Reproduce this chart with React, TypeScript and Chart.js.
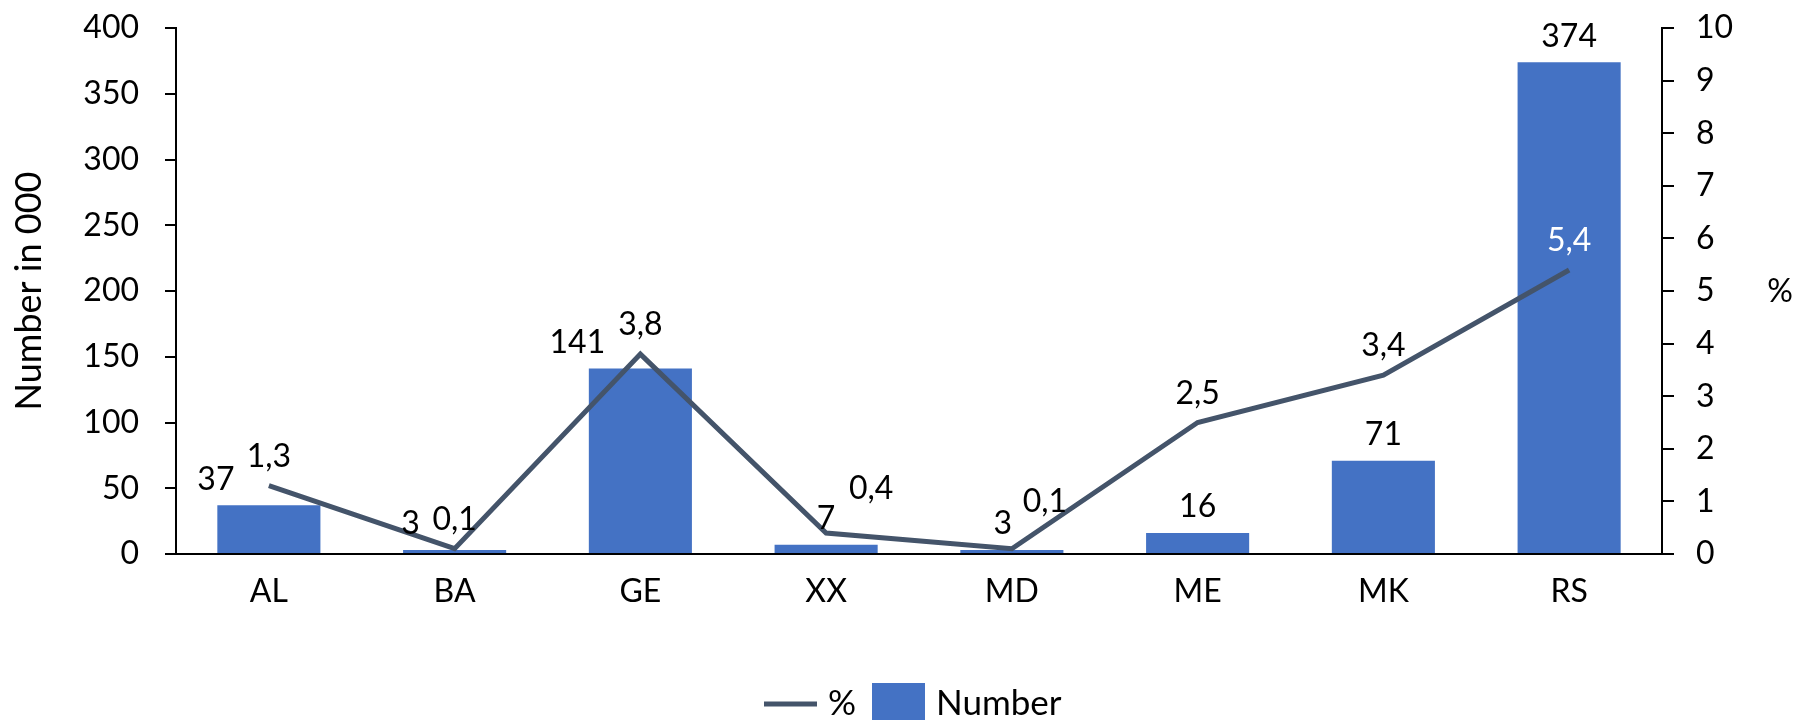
import React, { useEffect, useRef } from "react";
import { Chart, registerables } from "chart.js";

Chart.register(...registerables);

const categories = ["AL", "BA", "GE", "XX", "MD", "ME", "MK", "RS"];
const numberValues = [37, 3, 141, 7, 3, 16, 71, 374];
const percentValues = [1.3, 0.1, 3.8, 0.4, 0.1, 2.5, 3.4, 5.4];
const leftTicks = [0, 50, 100, 150, 200, 250, 300, 350, 400];
const rightTicks = [0, 1, 2, 3, 4, 5, 6, 7, 8, 9, 10];

// label placement tweaks (style, not data)
const barLabelShiftX = [-53, -44, -63, 0, -9, 0, 0, 0];
const lineLabelShiftX = [0, 0, 0, 45, 33, 0, 0, 0];
const lineLabelShiftY = [0, 0, 0, -15, -18, 0, 0, 0];
const lineLabelColors = ["#000", "#000", "#000", "#000", "#000", "#000", "#000", "#fff"];

const FONT = "Lato, 'Open Sans', sans-serif";
const BAR_COLOR = "#4472C4";
const LINE_COLOR = "#44546A";

const fmt = (v: number, dec: number) => (dec ? v.toFixed(dec).replace(".", ",") : String(v));

const labelPlugin = {
  id: "valueLabels",
  afterDatasetsDraw(chart: any) {
    const ctx = chart.ctx;
    ctx.save();
    ctx.font = `32px ${FONT}`;
    ctx.textAlign = "center";
    ctx.textBaseline = "middle";
    const barMeta = chart.getDatasetMeta(1);
    barMeta.data.forEach((el: any, i: number) => {
      ctx.fillStyle = "#000";
      ctx.fillText(fmt(numberValues[i], 0), el.x + barLabelShiftX[i], el.y - 26);
    });
    const lineMeta = chart.getDatasetMeta(0);
    lineMeta.data.forEach((el: any, i: number) => {
      ctx.fillStyle = lineLabelColors[i];
      ctx.fillText(fmt(percentValues[i], 1), el.x + lineLabelShiftX[i], el.y - 29 + lineLabelShiftY[i]);
    });
    ctx.restore();
  },
  afterDraw(chart: any) {
    const ctx = chart.ctx;
    ctx.save();
    // right axis title, upright
    ctx.font = `32px ${FONT}`;
    ctx.fillStyle = "#000";
    ctx.textAlign = "center";
    ctx.textBaseline = "middle";
    ctx.fillText("%", 1780, 292);
    // legend
    const ly = 704;
    ctx.strokeStyle = LINE_COLOR;
    ctx.lineWidth = 5;
    ctx.beginPath();
    ctx.moveTo(764, ly);
    ctx.lineTo(817, ly);
    ctx.stroke();
    ctx.font = `35px ${FONT}`;
    ctx.textAlign = "left";
    ctx.fillText(chart.data.datasets[0].label, 828, ly);
    ctx.fillStyle = BAR_COLOR;
    ctx.fillRect(872, 683, 53, 53);
    ctx.fillStyle = "#000";
    ctx.fillText(chart.data.datasets[1].label, 936, ly);
    ctx.restore();
  },
};

export default function App() {
  const ref = useRef<HTMLCanvasElement | null>(null);
  useEffect(() => {
    let chart: Chart | null = null;
    let cancelled = false;
    const make = () => {
      if (cancelled || !ref.current) return;
      chart = new Chart(ref.current, {
        type: "bar",
        data: {
          labels: categories,
          datasets: [
            {
              type: "line",
              label: "%",
              data: percentValues,
              yAxisID: "y1",
              borderColor: LINE_COLOR,
              backgroundColor: LINE_COLOR,
              borderWidth: 5,
              pointRadius: 0,
              tension: 0,
              order: 1,
            } as any,
            {
              type: "bar",
              label: "Number",
              data: numberValues,
              yAxisID: "y",
              backgroundColor: BAR_COLOR,
              categoryPercentage: 1,
              barPercentage: 0.555,
              order: 2,
            },
          ],
        },
        options: {
          responsive: false,
          animation: false,
          devicePixelRatio: 1,
          layout: { padding: { top: 28, left: 0, right: 0, bottom: 0 } },
          plugins: { legend: { display: false }, tooltip: { enabled: false } },
          scales: {
            x: {
              grid: { display: true, drawOnChartArea: false, drawTicks: false },
              border: { display: true, color: "#000", width: 2 },
              ticks: { color: "#000", font: { family: FONT, size: 32 }, padding: 18 },
              afterFit: (s: any) => { s.height = 166; s.paddingLeft = 0; s.paddingRight = 0; },
            },
            y: {
              position: "left",
              min: 0,
              max: 400,
              afterBuildTicks: (s: any) => { s.ticks = leftTicks.map((v) => ({ value: v })); },
              grid: { drawOnChartArea: false, drawTicks: true, tickLength: 11, color: "#000", lineWidth: 2 },
              border: { display: true, color: "#000", width: 2 },
              ticks: { color: "#000", font: { family: FONT, size: 32 }, padding: 26 },
              title: { display: true, text: "Number in 000", color: "#000", font: { family: FONT, size: 36 }, padding: { top: 8, bottom: 0 } },
              afterFit: (s: any) => { s.width = 176; s.paddingTop = 0; s.paddingBottom = 0; },
            },
            y1: {
              position: "right",
              min: 0,
              max: 10,
              afterBuildTicks: (s: any) => { s.ticks = rightTicks.map((v) => ({ value: v })); },
              grid: { drawOnChartArea: false, drawTicks: true, tickLength: 12, color: "#000", lineWidth: 2 },
              border: { display: true, color: "#000", width: 2 },
              ticks: { color: "#000", font: { family: FONT, size: 32 }, padding: 22 },
              afterFit: (s: any) => { s.width = 136; s.paddingTop = 0; s.paddingBottom = 0; },
            },
          },
        },
        plugins: [labelPlugin],
      });
    };
    const fonts = (document as any).fonts;
    if (fonts && fonts.load) {
      Promise.all([fonts.load(`32px Lato`), fonts.load(`36px Lato`)]).then(make, make);
    } else make();
    return () => {
      cancelled = true;
      if (chart) chart.destroy();
    };
  }, []);
  return (
    <div style={{ position: "fixed", left: 0, top: 0, width: 1798, height: 720, background: "#fff" }}>
      <canvas ref={ref} width={1798} height={720} style={{ display: "block", width: 1798, height: 720 }} />
    </div>
  );
}
